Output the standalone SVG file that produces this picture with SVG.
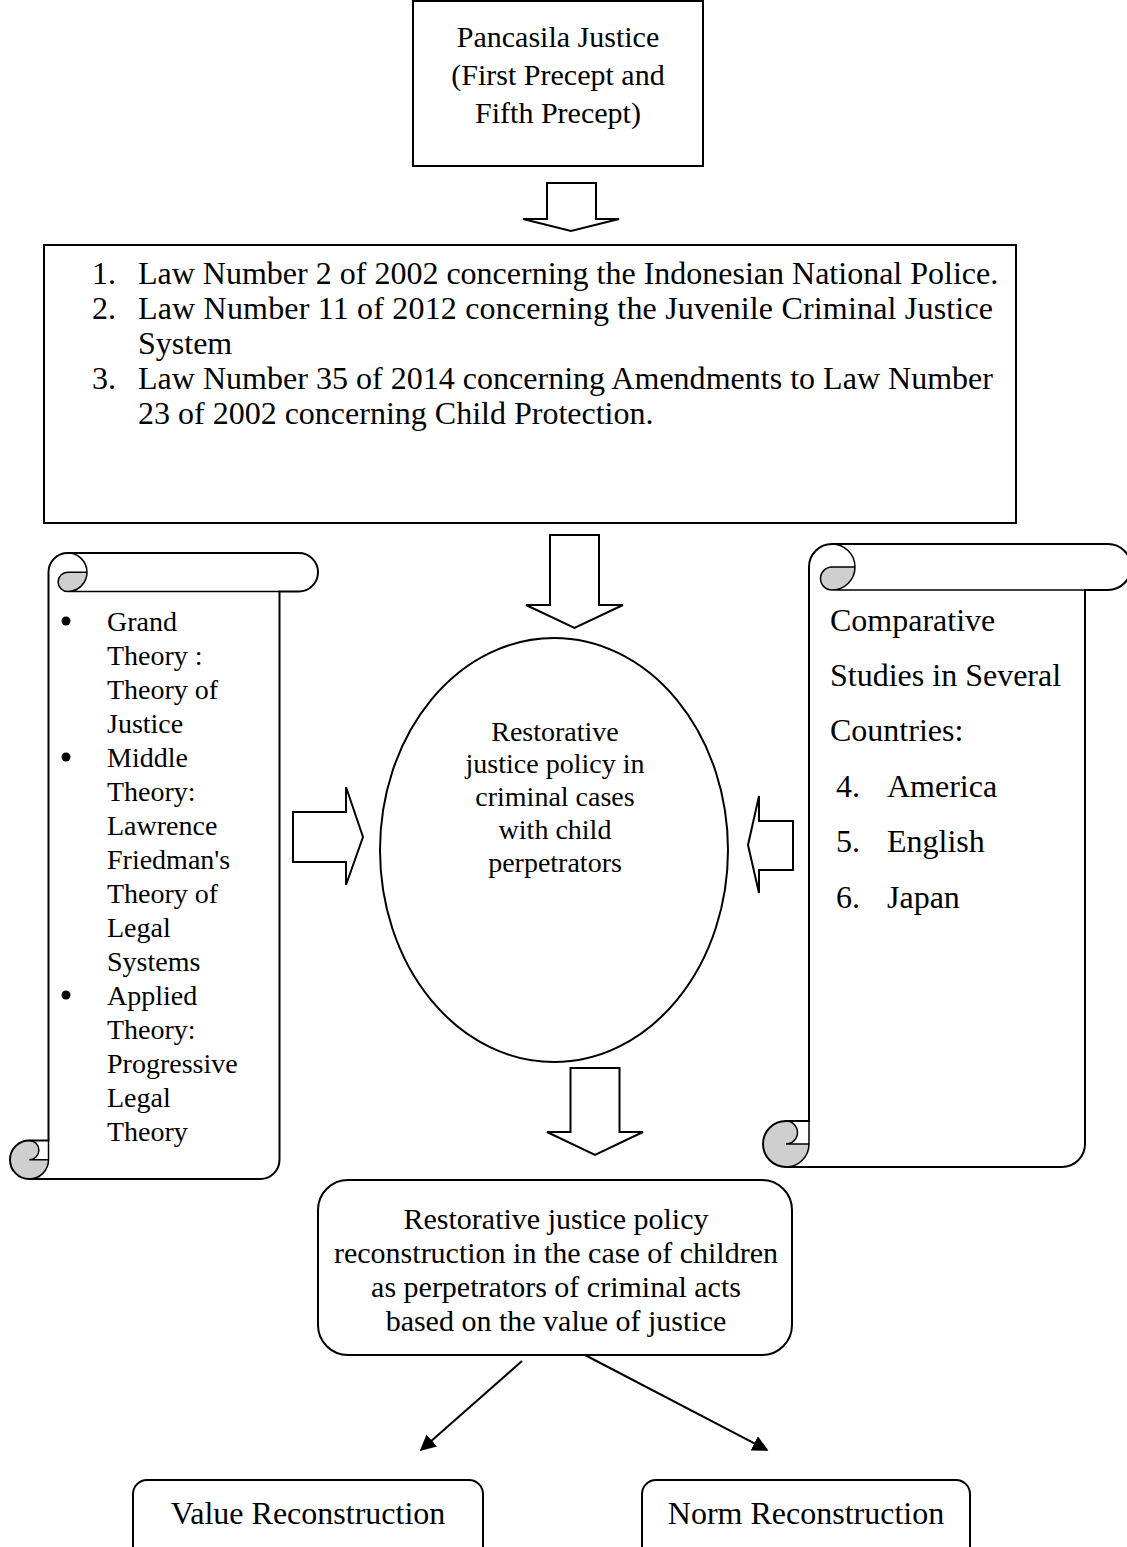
<svg xmlns="http://www.w3.org/2000/svg" width="1127" height="1547" viewBox="0 0 1127 1547">
<style>
text{font-family:"Liberation Serif","Times New Roman",serif;fill:#000}
.ln{fill:none;stroke:#000;stroke-width:2}
.box{fill:#fff;stroke:#000;stroke-width:2}
.blk{fill:#fff;stroke:#000;stroke-width:2;stroke-linejoin:miter}
.gray{fill:#cfcfcf;stroke:none}
.detail{fill:none;stroke:#000;stroke-width:1.5}
.t28{font-size:28px}
.t30{font-size:30px}
.t32{font-size:32px}
</style>
<defs>
<marker id="ah" viewBox="0 0 10 10" refX="9" refY="5" markerWidth="8" markerHeight="8" orient="auto" markerUnits="strokeWidth">
<path d="M0,0 L10,5 L0,10 Z" fill="#000"/>
</marker>
</defs>
<rect width="1127" height="1547" fill="#fff"/>

<g id="pancasila">
<rect class="box" x="413" y="1" width="290" height="165"/>
<g class="t30" text-anchor="middle">
<text x="558" y="47">Pancasila Justice</text>
<text x="558" y="85">(First Precept and</text>
<text x="558" y="123">Fifth Precept)</text>
</g>
</g>

<g id="laws">
<rect class="box" x="44" y="245" width="972" height="278"/>
<g class="t32">
<text x="92" y="284">1.</text><text x="138" y="284">Law Number 2 of 2002 concerning the Indonesian National Police.</text>
<text x="92" y="319">2.</text><text x="138" y="319" textLength="855" lengthAdjust="spacing">Law Number 11 of 2012 concerning the Juvenile Criminal Justice</text>
<text x="138" y="354">System</text>
<text x="92" y="389">3.</text><text x="138" y="389" textLength="855" lengthAdjust="spacing">Law Number 35 of 2014 concerning Amendments to Law Number</text>
<text x="138" y="424">23 of 2002 concerning Child Protection.</text>
</g>
</g>

<g id="theory-scroll">
<path fill="#fff" d="M48.5,1140.5 L48.5,572.25 A19.25,19.25 0 0 1 67.75,553 L298.75,553 A19.25,19.25 0 0 1 298.75,591.5 L279.5,591.5 L279.5,1159.75 A19.25,19.25 0 0 1 260.25,1179 L29.25,1179 A19.25,19.25 0 0 1 29.25,1140.5 Z"/>
<path class="gray" d="M87,572.25 A19.25,19.25 0 0 1 67.75,591.5 A9.625,9.625 0 0 1 67.75,572.25 Z"/>
<path class="gray" d="M48.5,1159.75 A19.25,19.25 0 1 1 29.25,1140.5 A9.625,9.625 0 0 1 29.25,1159.75 Z"/>
<path class="ln" d="M48.5,1140.5 L48.5,572.25 A19.25,19.25 0 0 1 67.75,553 L298.75,553 A19.25,19.25 0 0 1 298.75,591.5 L279.5,591.5 L279.5,1159.75 A19.25,19.25 0 0 1 260.25,1179 L29.25,1179 A19.25,19.25 0 0 1 29.25,1140.5 Z"/>
<path class="detail" d="M67.75,553 A19.25,19.25 0 0 1 67.75,591.5 A9.625,9.625 0 0 1 67.75,572.25 L87,572.25 M279.5,591.5 L67.75,591.5 M29.25,1140.5 A9.625,9.625 0 0 1 29.25,1159.75 L48.5,1159.75 M29.25,1179 A19.25,19.25 0 0 0 48.5,1159.75 L48.5,1140.5"/>
<g class="t28">
<circle cx="66" cy="621" r="4.5" fill="#000"/>
<circle cx="66" cy="757" r="4.5" fill="#000"/>
<circle cx="66" cy="995" r="4.5" fill="#000"/>
<text x="107" y="631">Grand</text>
<text x="107" y="665">Theory :</text>
<text x="107" y="699">Theory of</text>
<text x="107" y="733">Justice</text>
<text x="107" y="767">Middle</text>
<text x="107" y="801">Theory:</text>
<text x="107" y="835">Lawrence</text>
<text x="107" y="869">Friedman's</text>
<text x="107" y="903">Theory of</text>
<text x="107" y="937">Legal</text>
<text x="107" y="971">Systems</text>
<text x="107" y="1005">Applied</text>
<text x="107" y="1039">Theory:</text>
<text x="107" y="1073">Progressive</text>
<text x="107" y="1107">Legal</text>
<text x="107" y="1141">Theory</text>
</g>
</g>

<g id="comparative-scroll">
<path fill="#fff" d="M809,1121 L809,567 A23,23 0 0 1 832,544 L1108,544 A23,23 0 0 1 1108,590 L1085,590 L1085,1144 A23,23 0 0 1 1062,1167 L786,1167 A23,23 0 0 1 786,1121 Z"/>
<path class="gray" d="M855,567 A23,23 0 0 1 832,590 A11.5,11.5 0 0 1 832,567 Z"/>
<path class="gray" d="M809,1144 A23,23 0 1 1 786,1121 A11.5,11.5 0 0 1 786,1144 Z"/>
<path class="ln" d="M809,1121 L809,567 A23,23 0 0 1 832,544 L1108,544 A23,23 0 0 1 1108,590 L1085,590 L1085,1144 A23,23 0 0 1 1062,1167 L786,1167 A23,23 0 0 1 786,1121 Z"/>
<path class="detail" d="M832,544 A23,23 0 0 1 832,590 A11.5,11.5 0 0 1 832,567 L855,567 M1085,590 L832,590 M786,1121 A11.5,11.5 0 0 1 786,1144 L809,1144 M786,1167 A23,23 0 0 0 809,1144 L809,1121"/>
<g class="t32">
<text x="830" y="631">Comparative</text>
<text x="830" y="686">Studies in Several</text>
<text x="830" y="741">Countries:</text>
<text x="836" y="797">4.</text><text x="887" y="797">America</text>
<text x="836" y="852">5.</text><text x="887" y="852">English</text>
<text x="836" y="908">6.</text><text x="887" y="908">Japan</text>
</g>
</g>

<g id="restorative-policy">
<ellipse class="box" cx="554" cy="850" rx="174" ry="212"/>
<g class="t28" text-anchor="middle">
<text x="555" y="741">Restorative</text>
<text x="555" y="773">justice policy in</text>
<text x="555" y="806">criminal cases</text>
<text x="555" y="839">with child</text>
<text x="555" y="872">perpetrators</text>
</g>
</g>

<g id="reconstruction">
<rect class="box" x="318" y="1180" width="474" height="175" rx="30"/>
<g class="t30" text-anchor="middle">
<text x="556" y="1229">Restorative justice policy</text>
<text x="556" y="1263">reconstruction in the case of children</text>
<text x="556" y="1297">as perpetrators of criminal acts</text>
<text x="556" y="1331">based on the value of justice</text>
</g>
</g>

<g id="value-reconstruction">
<rect class="box" x="133" y="1480" width="350" height="90" rx="14"/>
<text class="t32" x="308" y="1524" text-anchor="middle">Value Reconstruction</text>
</g>

<g id="norm-reconstruction">
<rect class="box" x="642" y="1480" width="328" height="90" rx="14"/>
<text class="t32" x="806" y="1524" text-anchor="middle">Norm Reconstruction</text>
</g>

<g id="connectors">
<path class="blk" d="M547,183 L596,183 L596,219 L619,219 L571,231 L523,219 L547,219 Z"/>
<path class="blk" d="M550,535 L599,535 L599,605 L623,605 L574.5,628 L526,605 L550,605 Z"/>
<path class="blk" d="M570.5,1068 L619.5,1068 L619.5,1132 L643,1132 L595,1155 L547,1132 L570.5,1132 Z"/>
<path class="blk" d="M293,812 L346,812 L346,787 L363,837 L346,885 L346,862 L293,862 Z"/>
<path class="blk" d="M793,821 L759,821 L759,796 L748,845 L759,893 L759,870 L793,870 Z"/>
<line class="ln" x1="522" y1="1361" x2="421" y2="1450" marker-end="url(#ah)"/>
<line class="ln" x1="585" y1="1355" x2="767" y2="1450" marker-end="url(#ah)"/>
</g>
</svg>
